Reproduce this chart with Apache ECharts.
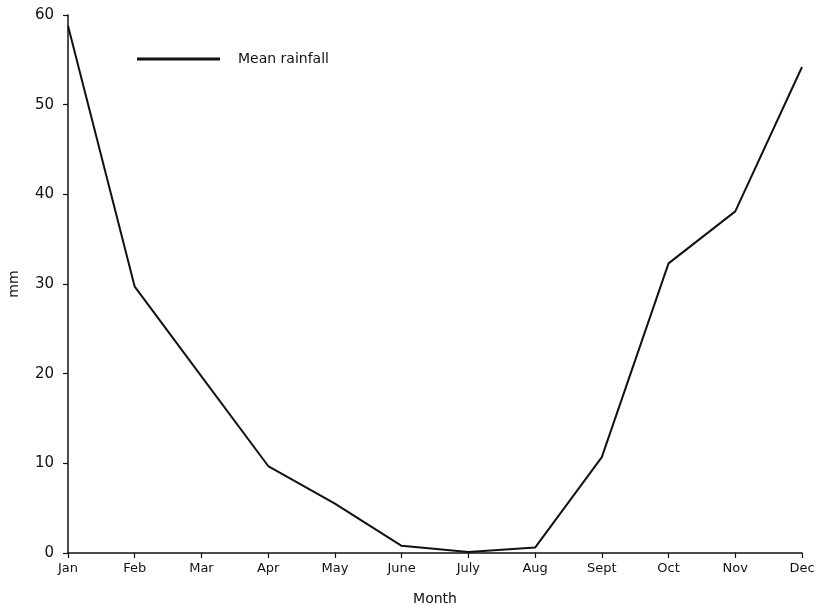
<!DOCTYPE html>
<html>
<head>
<meta charset="utf-8">
<script src="https://cdn.jsdelivr.net/npm/echarts@6/dist/echarts.min.js"></script>
<style>
  html, body { margin: 0; padding: 0; background: #fff; }
  #chart { width: 820px; height: 606px; }
</style>
</head>
<body>
<div id="chart"></div>
<script>
// Monthly mean rainfall (mm)
const months = ['Jan', 'Feb', 'Mar', 'Apr', 'May', 'June', 'July', 'Aug', 'Sept', 'Oct', 'Nov', 'Dec'];
const meanRainfall = [58.8, 29.7, 19.7, 9.7, 5.5, 0.8, 0.1, 0.6, 10.7, 32.3, 38.1, 54.2];
const yTicks = [0, 10, 20, 30, 40, 50, 60];

const FONT = 'DejaVu Sans';
const chart = echarts.init(document.getElementById('chart'), null, { renderer: 'canvas' });

chart.setOption({
  animation: false,
  backgroundColor: '#ffffff',
  textStyle: { fontFamily: FONT, color: '#111' },
  grid: { left: 68, right: 18, top: 15, bottom: 53, containLabel: false, outerBoundsMode: 'none' },
  legend: {
    left: 132,
    top: 47,
    itemWidth: 83,
    itemHeight: 3,
    itemGap: 10,
    textStyle: { fontFamily: FONT, fontSize: 14, color: '#111', padding: [0, 0, 0, 13] },
    data: [{ name: 'Mean rainfall', icon: 'rect' }]
  },
  xAxis: {
    type: 'category',
    data: months,
    boundaryGap: false,
    name: 'Month',
    nameLocation: 'middle',
    nameGap: 39,
    nameTextStyle: { fontFamily: FONT, fontSize: 14, color: '#111' },
    axisLine: { lineStyle: { color: '#111', width: 1.5 } },
    axisTick: { show: true, length: 5, inside: false, alignWithLabel: true, lineStyle: { color: '#111', width: 1.2 } },
    axisLabel: { fontFamily: FONT, fontSize: 13, color: '#111', margin: 9, interval: 0 },
    splitLine: { show: false }
  },
  yAxis: {
    type: 'value',
    min: yTicks[0],
    max: yTicks[yTicks.length - 1],
    interval: 10,
    name: 'mm',
    nameLocation: 'middle',
    nameRotate: 90,
    nameGap: 47,
    nameTextStyle: { fontFamily: FONT, fontSize: 14, color: '#111' },
    axisLine: { show: true, lineStyle: { color: '#111', width: 1.5 } },
    axisTick: { show: true, length: 5, inside: false, lineStyle: { color: '#111', width: 1.2 } },
    axisLabel: { fontFamily: FONT, fontSize: 15, color: '#111', margin: 14 },
    splitLine: { show: false }
  },
  series: [{
    name: 'Mean rainfall',
    type: 'line',
    data: meanRainfall,
    showSymbol: false,
    symbol: 'none',
    color: '#111',
    lineStyle: { color: '#111', width: 2 }
  }]
});
</script>
</body>
</html>
